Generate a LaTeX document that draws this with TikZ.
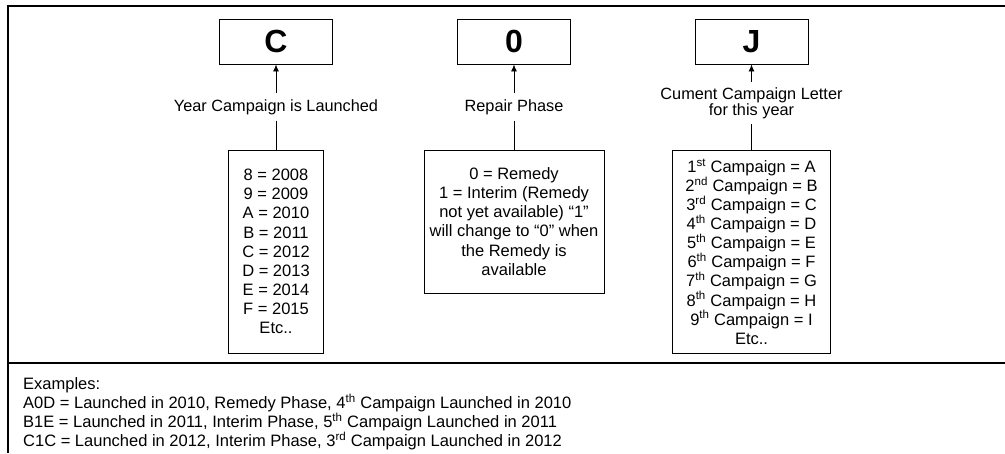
\documentclass[tikz,border=0pt]{standalone}
\usepackage{fontspec}
\setmainfont{Liberation Sans}
\usetikzlibrary{arrows.meta}
\begin{document}
\begin{tikzpicture}[x=1pt,y=-1pt,
  letterbox/.style={draw,line width=0.9pt,minimum width=113pt,minimum height=45pt,inner sep=0pt,font=\fontsize{32}{36}\selectfont\bfseries},
  listbox/.style={draw,line width=0.9pt,inner sep=0pt,align=center,font=\fontsize{16.5}{19.1}\selectfont},
  lbl/.style={inner sep=5.5pt,text height=12pt,text depth=4pt,font=\fontsize{16.3}{19}\selectfont},
  >={Latex[length=7pt,width=6pt]}]
\useasboundingbox (0,0) rectangle (1005,453);
\draw[line width=1.6pt] (1005,6) -- (8,6) -- (8,453);
\draw[line width=1.6pt] (8,363) -- (1005,363);
% year
\node[letterbox] (yr) at (276,41.5) {C};
\node[lbl] (yrlbl) at (276,107) {Year Campaign is Launched};
\node[listbox,minimum width=95pt,minimum height=203pt] (yrlist) at (276,251.5)
  {8 = 2008\\9 = 2009\\A = 2010\\B = 2011\\C = 2012\\D = 2013\\E = 2014\\F = 2015\\Etc..};
\draw[->,line width=0.9pt] (yrlbl) -- (yr);
\draw[line width=0.9pt] (yrlbl) -- (yrlist);
% phase
\node[letterbox] (ph) at (514,41.5) {0};
\node[lbl] (phlbl) at (514,107) {Repair Phase};
\node[listbox,minimum width=180pt,minimum height=143pt] (phlist) at (514,221.5)
  {0 = Remedy\\1 = Interim (Remedy\\not yet available) “1”\\will change to “0” when\\the Remedy is\\available};
\draw[->,line width=0.9pt] (phlbl) -- (ph);
\draw[line width=0.9pt] (phlbl) -- (phlist);
% letter
\node[letterbox] (lt) at (751.5,41.5) {J};
\node[inner sep=5pt,align=center,font=\fontsize{16.3}{14.5}\selectfont] (ltlbl) at (751.5,103)
  {Cument Campaign Letter\\for this year};
\node[listbox,minimum width=158pt,minimum height=203pt] (ltlist) at (751.5,251.5)
  {1\textsuperscript{st} Campaign = A\\2\textsuperscript{nd} Campaign = B\\3\textsuperscript{rd} Campaign = C\\
   4\textsuperscript{th} Campaign = D\\5\textsuperscript{th} Campaign = E\\6\textsuperscript{th} Campaign = F\\
   7\textsuperscript{th} Campaign = G\\8\textsuperscript{th} Campaign = H\\9\textsuperscript{th} Campaign = I\\Etc..};
\draw[->,line width=0.9pt] (ltlbl) -- (lt);
\draw[line width=0.9pt] (ltlbl) -- (ltlist);
% examples
\node[anchor=north west,inner sep=0pt,align=left,font=\fontsize{16.5}{19}\selectfont] (ex) at (23,377.5)
  {Examples:\\
   A0D = Launched in 2010, Remedy Phase, 4\textsuperscript{th} Campaign Launched in 2010\\
   B1E = Launched in 2011, Interim Phase, 5\textsuperscript{th} Campaign Launched in 2011\\
   C1C = Launched in 2012, Interim Phase, 3\textsuperscript{rd} Campaign Launched in 2012};
\end{tikzpicture}
\end{document}
